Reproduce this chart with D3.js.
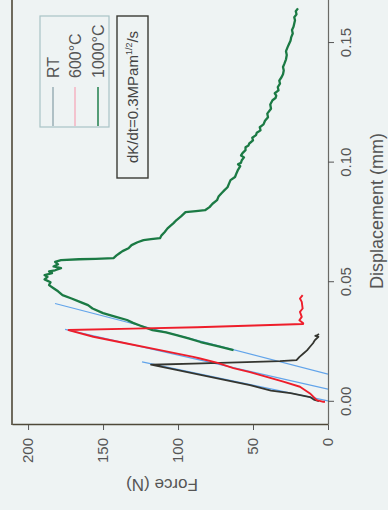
<!DOCTYPE html>
<html><head><meta charset="utf-8">
<script src="https://cdn.jsdelivr.net/npm/d3@7"></script>
<style>
html,body{margin:0;padding:0;background:#eef3f3;}
svg{display:block;}
text{font-family:"Liberation Sans",Arial,sans-serif;}
</style>
</head><body>
<svg id="c" width="388" height="510"></svg>
<script>
// ---- data (displacement in mm, force in N) ----
const dispTicks = [0, 0.05, 0.10, 0.15];
const forceTicks = [0, 50, 100, 150, 200];
const seriesNames = ["RT", "600°C", "1000°C"];
const annotation = "dK/dt=0.3MPam";

const rtDisp  = [0.0003,0.0008,0.0020,0.0036,0.0047,0.0070,0.0092,0.0113,0.0133,0.0150,0.0155,0.0160,0.0165,0.0170,0.0174,0.0188,0.0202,0.0215,0.0230,0.0245,0.0258,0.0272,0.0276,0.0279,0.0283];
const rtForce = [6,9,12,25,38,52,69,85,101,114,118,90,60,32,21,19,16.4,14,12,10,8.7,6.4,8.5,7,6];

const t600Disp  = [0.0000,0.0000,0.0007,0.0035,0.0063,0.0084,0.0104,0.0124,0.0141,0.0164,0.0181,0.0188,0.0216,0.0244,0.0272,0.0300,0.0306,0.0312,0.0325,0.0328,0.0341,0.0355,0.0376,0.0390,0.0418,0.0432,0.0446];
const t600Force = [2,3.1,7.5,12,18.7,29.8,40.9,52,63.1,74.2,85.3,89.8,112,134.2,156.5,173,130,87.3,16.7,16.5,19.1,17.5,18.7,16.9,17.5,18.7,16.9];

const t1000Disp  = [0.0216,0.0232,0.0250,0.0265,0.0279,0.0290,0.0300,0.0318,0.0330,0.0342,0.0356,0.0371,0.0390,0.0404,0.0417,0.0432,0.0446,0.0462,0.0475,0.0488,0.0500,0.0512,0.0522,0.0530,0.0538,0.0545,0.0550,0.0559,0.0566,0.0575,0.0585,0.0592,0.0596,0.0598,0.0601,0.0612,0.0621,0.0630,0.0642,0.0655,0.0667,0.0676,0.0680,0.0684,0.0696,0.0709,0.0725,0.0747,0.0760,0.0775,0.0793,0.0797,0.0801,0.0814,0.0828,0.0843,0.0858,0.0872,0.0885,0.0897,0.0912,0.0927,0.0940,0.0956,0.0970,0.0985,0.0993,0.1000,0.1010,0.1022,0.1030,0.1040,0.1052,0.1064,0.1072,0.1080,0.1093,0.1104,0.1115,0.1125,0.1135,0.1148,0.1160,0.1175,0.1190,0.1205,0.1225,0.1243,0.1261,0.1270,0.1280,0.1290,0.1302,0.1316,0.1330,0.1343,0.1357,0.1370,0.1385,0.1400,0.1415,0.1432,0.1450,0.1466,0.1482,0.1496,0.1510,0.1525,0.1540,0.1555,0.1568,0.1582,0.1595,0.1608,0.1620,0.1633,0.1645];
const t1000Force = [63,73,85,93,101,108,117,125,130,134,142,150,157,160,165,171,177,180,183,186,185,189,187,189,184,186,182,178,183,180,182,178,166,155,143,141,139,137,133,131,127,123,118,112,111,109,107,103,101,98,95,88,82,79,77,74,73,71,69,67,66,65,62,61,60,58.5,60,58,57.5,56,58,57,55,55,53,52.5,50,50.5,48,47.5,45,45.5,43,42,40,40.5,38,38.5,37,35,34.5,35.5,33,33.5,32,32.5,31,30,29.5,30,29,28,27.5,28,27,26,25,24.5,23.5,24,23,22.5,22,22.5,21,21.5,20];

// fitted loading lines (start, end)
const fitRTDisp = [0.0167, 0.0004],   fitRTForce = [124, 0];
const fit600Disp = [0.0303, 0.0053],  fit600Force = [175.3, 0];
const fit1000Disp = [0.0411, 0.0116], fit1000Force = [182, 0];

// ---- drawing (chart drawn in its own frame, then turned -90°) ----
const svg = d3.select("#c");
svg.append("rect").attr("width",388).attr("height",510).attr("fill","#eef3f3");
const g = svg.append("g").attr("transform","translate(0,510) rotate(-90)");

const x = d3.scaleLinear().domain([-0.0097, 0.168]).range([85, 510]);
const y = d3.scaleLinear().domain([0, 210.7]).range([328, 12]);

g.append("clipPath").attr("id","clip").append("rect")
  .attr("x",85).attr("y",12).attr("width",425).attr("height",316);

// top frame line
g.append("line").attr("x1",85).attr("x2",510).attr("y1",12).attr("y2",12)
  .attr("stroke","#4e4838").attr("stroke-width",1.6);

const zip = (a,b) => a.map((v,i)=>[v,b[i]]);
const line = d3.line().x(d=>x(d[0])).y(d=>y(d[1]));
const plot = g.append("g").attr("clip-path","url(#clip)");

[[fitRTDisp,fitRTForce],[fit600Disp,fit600Force],[fit1000Disp,fit1000Force]].forEach(([a,b])=>{
  plot.append("path").attr("d",line(zip(a,b))).attr("fill","none")
    .attr("stroke","#62a4ea").attr("stroke-width",1.2);
});
plot.append("path").attr("d",line(zip(t1000Disp,t1000Force))).attr("fill","none")
  .attr("stroke","#1b7a44").attr("stroke-width",2.3).attr("stroke-linejoin","round");
plot.append("path").attr("d",line(zip(rtDisp,rtForce))).attr("fill","none")
  .attr("stroke","#34352f").attr("stroke-width",1.8).attr("stroke-linejoin","round");
plot.append("path").attr("d",line(zip(t600Disp,t600Force))).attr("fill","none")
  .attr("stroke","#ee1d2a").attr("stroke-width",1.9).attr("stroke-linejoin","round");

// axes
const ax = g.append("g").attr("transform","translate(0,328)")
  .call(d3.axisBottom(x).tickValues(dispTicks).tickFormat(d3.format(".2f")).tickSize(6).tickSizeOuter(0).tickPadding(6));
ax.select(".domain").attr("stroke","#6a6a66").attr("stroke-width",1.2);
ax.selectAll(".tick line").attr("stroke","#555");
ax.selectAll("text").attr("font-size",15).attr("fill","#555");

const ay = g.append("g").attr("transform","translate(85,0)")
  .call(d3.axisLeft(y).tickValues(forceTicks).tickSize(5).tickSizeOuter(0).tickPadding(8));
ay.select(".domain").attr("stroke","#4e4838").attr("stroke-width",1.6);
ay.selectAll(".tick line").attr("stroke","#555");
ay.selectAll("text").attr("font-size",15).attr("fill","#555");

g.append("text").attr("x",299).attr("y",383).attr("text-anchor","middle")
  .attr("font-size",18).attr("fill","#555").text("Displacement (mm)");
g.append("text").attr("transform","translate(31,162) rotate(-90)").attr("text-anchor","middle")
  .attr("font-size",17).attr("fill","#555").text("Force (N)");

// legend
const legColors = ["#9aafb6","#f4b3c2","#217f4c"];
const lg = g.append("g");
lg.append("rect").attr("x",383).attr("y",40).attr("width",111).attr("height",69)
  .attr("fill","#eef3f3").attr("stroke","#a9c4c6").attr("stroke-width",1.2);
seriesNames.forEach((n,i)=>{
  const yy = [53,75,98][i];
  lg.append("line").attr("x1",384).attr("x2",423).attr("y1",yy).attr("y2",yy)
    .attr("stroke",legColors[i]).attr("stroke-width",1.5);
  lg.append("text").attr("x",432).attr("y",yy+6).attr("font-size",16).attr("fill","#555").text(n);
});

// annotation box
const an = g.append("g");
an.append("rect").attr("x",332).attr("y",117).attr("width",162).attr("height",31)
  .attr("fill","none").attr("stroke","#3a3a34").attr("stroke-width",1.4);
const at = an.append("text").attr("x",413).attr("y",138).attr("text-anchor","middle")
  .attr("font-size",15).attr("fill","#444");
at.append("tspan").text(annotation);
at.append("tspan").attr("font-size",9).attr("dy",-6).text("1/2");
at.append("tspan").attr("dy",6).text("/s");
</script>
</body></html>
